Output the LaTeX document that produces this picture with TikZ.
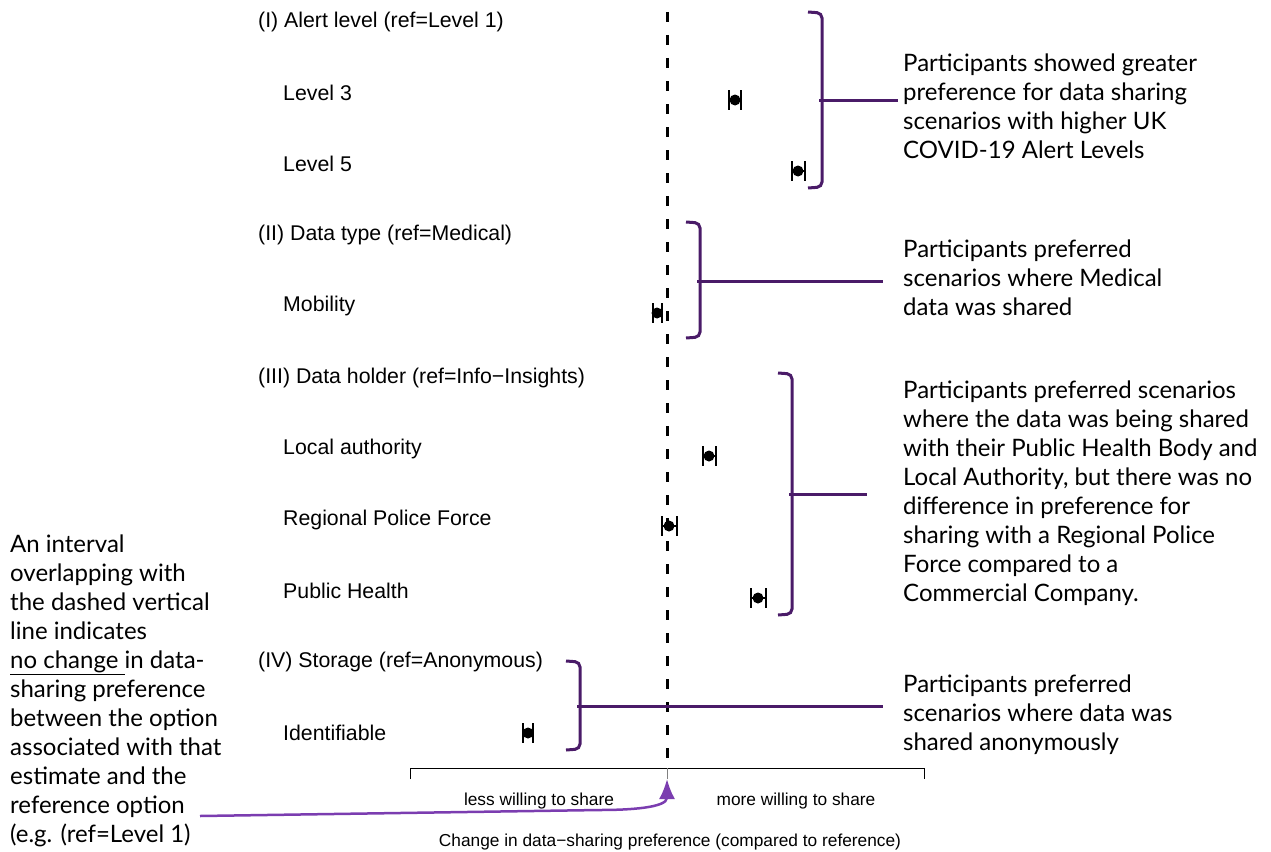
\documentclass[tikz,border=0pt]{standalone}
\usepackage{fontspec}
\setmainfont{Liberation Sans}
\newfontfamily\notefont{Lato}
\usetikzlibrary{arrows.meta}

\definecolor{bracketpurple}{HTML}{4A1B68}
\definecolor{arrowpurple}{HTML}{7B3DB0}

\begin{document}
\begin{tikzpicture}[x=1pt,y=-1pt,
    bracket/.style={draw=bracketpurple,line width=3pt,rounded corners=5pt},
    note/.style={font=\notefont\fontsize{24}{29}\selectfont,align=left,anchor=base west,inner sep=0pt},
    label/.style={font=\fontsize{21.3}{24}\selectfont,anchor=west,inner sep=0pt},
    axlabel/.style={font=\fontsize{17.3}{20}\selectfont}]
            \useasboundingbox (0,0) rectangle (1271,851);
            % reference line and axis
            \draw[line width=3pt,dash pattern=on 10pt off 13pt] (667,12) -- (667,768);
            \draw[line width=0.8pt] (410,779) -- (410,768) -- (924,768) -- (924,779);
            \draw[line width=0.8pt,gray] (667,768) -- (667,779);
            \node[axlabel] (less) at (539,801) {less willing to share};
            \node[axlabel] (more) at (796,801) {more willing to share};
            \node[axlabel] (xlab) at (670,842) {Change in data\textminus sharing preference (compared to reference)};
            \coordinate (ref) at (667,779);
            % row labels
            \node[label] (alert) at (258,22) {(I) Alert level (ref=Level 1)};
            \node[label] (lvl3) at (283,93) {Level 3};
            \node[label] (lvl5) at (283,164) {Level 5};
            \node[label] (dtype) at (258,235) {(II) Data type (ref=Medical)};
            \node[label] (mob) at (283,306) {Mobility};
            \node[label] (holder) at (258,378) {(III) Data holder (ref=Info\textminus Insights)};
            \node[label] (local) at (283,449) {Local authority};
            \node[label] (police) at (283,520) {Regional Police Force};
            \node[label] (health) at (283,591) {Public Health};
            \node[label] (store) at (258,662) {(IV) Storage (ref=Anonymous)};
            \node[label] (ident) at (283,733) {Identifiable};
            % estimates with intervals
            \foreach \x/\y/\lo/\hi in {735/100/729/741, 798/171/792/805, 657/313/653/662,
                709/456/703/716, 669/526/662/677, 758/598/751/766, 528/733/523/533}{
                \draw[line width=1.3pt] (\lo,\y-10) -- (\lo,\y+10);
                \draw[line width=1.3pt] (\hi,\y-10) -- (\hi,\y+10);
                \draw[line width=1.3pt] (\lo,\y) -- (\hi,\y);
                \fill (\x,\y) circle (5.5pt);
            }
            % brackets
            \draw[bracket] (808,12) -- (822,13) -- (822,187) -- (808,188);
            \draw[bracket] (686,222) -- (700,223) -- (700,337) -- (686,338);
            \draw[bracket] (778,373) -- (792,374) -- (792,614) -- (778,615);
            \draw[bracket] (566,661) -- (580,662) -- (580,749) -- (566,750);
            \coordinate (b1) at (819,100);
            \coordinate (b2) at (697,281);
            \coordinate (b3) at (789,494);
            \coordinate (b4) at (577,706);
            % notes (anchored at the baseline of their last line)
            \node[note] (n1) at (903,158) {Participants showed greater\\preference for data sharing\\scenarios with higher UK\\COVID-19 Alert Levels};
            \node[note] (n2) at (903,315) {Participants preferred\\scenarios where Medical\\data was shared};
            \node[note] (n3) at (903,601) {Participants preferred scenarios\\where the data was being shared\\with their Public Health Body and\\Local Authority, but there was no\\difference in preference for\\sharing with a Regional Police\\Force compared to a\\Commercial Company.};
            \node[note] (n4) at (903,750) {Participants preferred\\scenarios where data was\\shared anonymously};
            \node[note] (n5) at (10,842) {An interval\\overlapping with\\the dashed vertical\\line indicates\\\underline{no change }in data-\\sharing preference\\between the option\\associated with that\\estimate and the\\reference option\\(e.g. (ref=Level 1)};
            \draw[bracketpurple,line width=3pt] (b1) -- (898,100);
            \draw[bracketpurple,line width=3pt] (b2) -- (883,281);
            \draw[bracketpurple,line width=3pt] (b3) -- (867,494);
            \draw[bracketpurple,line width=3pt] (b4) -- (883,706);
            \draw[arrowpurple,line width=2.5pt,-{Latex[length=20pt,width=16pt]}] (200,816) -- (600,810) to[out=0,in=-90] (ref);
        \end{tikzpicture}
\end{document}
